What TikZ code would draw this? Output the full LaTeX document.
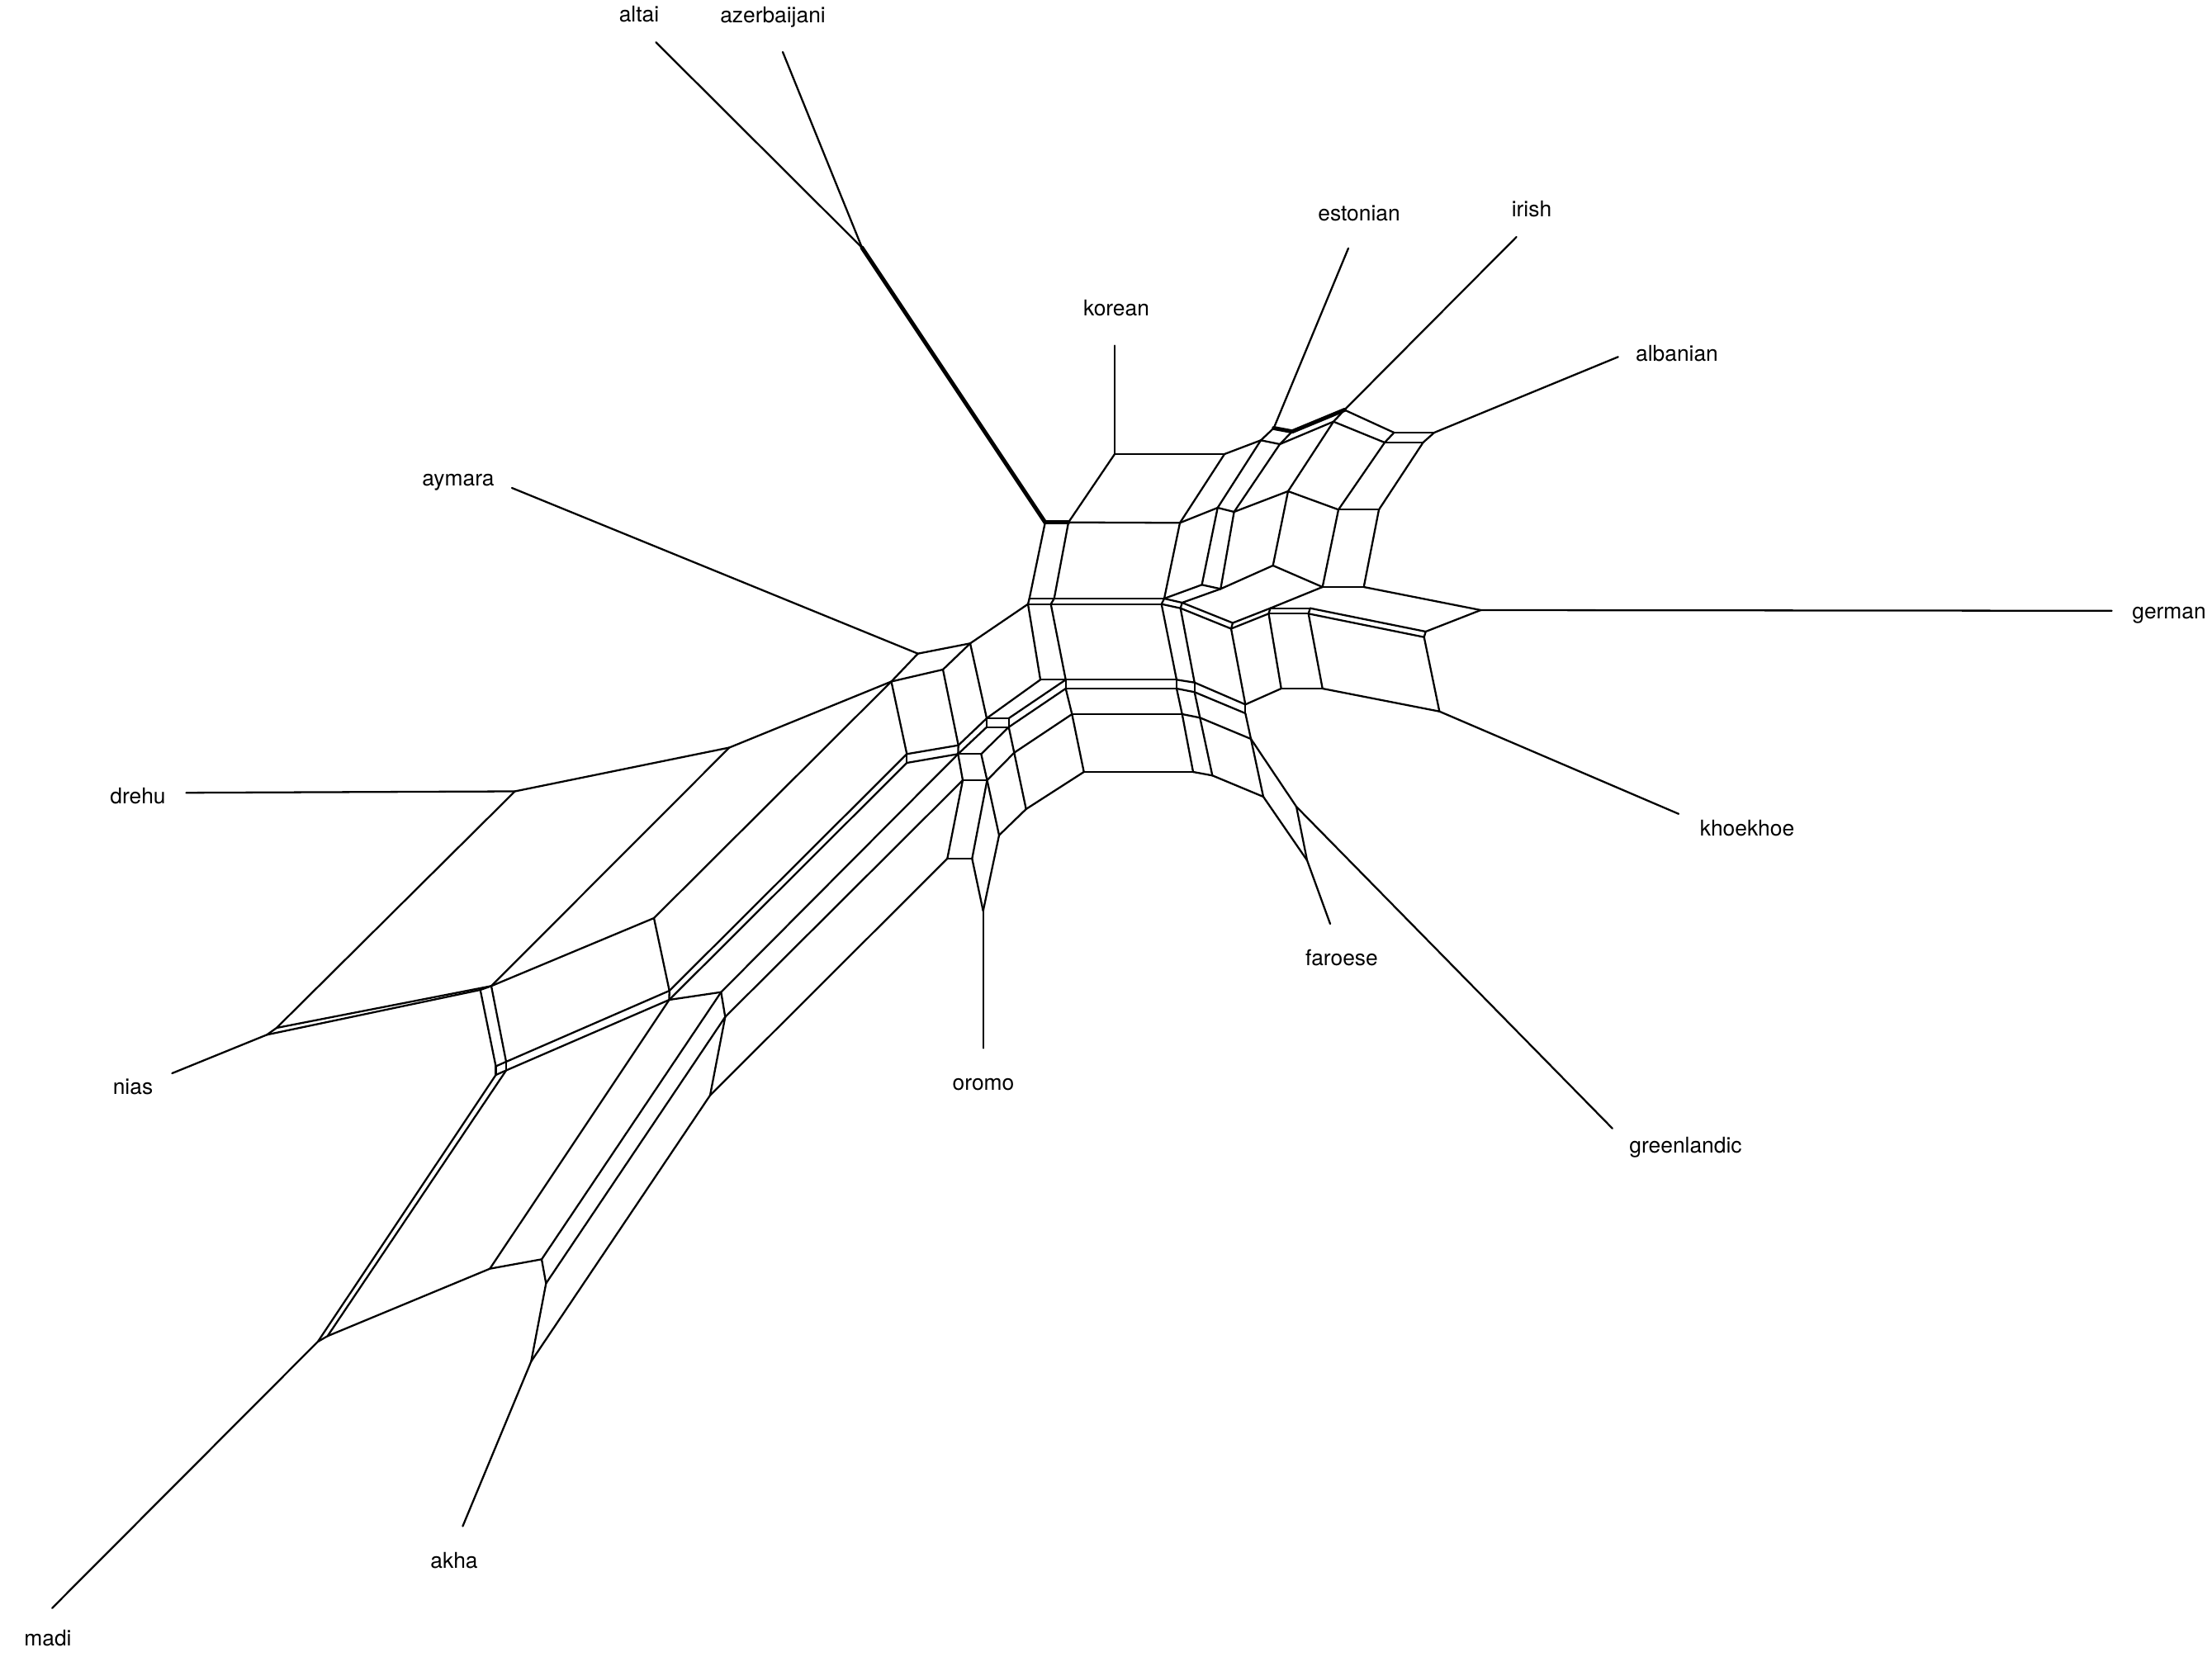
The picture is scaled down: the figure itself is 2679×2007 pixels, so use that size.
\documentclass[tikz,border=0pt]{standalone}
\usepackage{fontspec}
\setmainfont{TeX Gyre Heros}
\begin{document}
\begin{tikzpicture}[x=0.01cm,y=-0.01cm,
  edge/.style={line width=0.65pt,line cap=round,line join=round},
  dbl/.style={line width=1.4pt,line cap=round},
  lab/.style={font=\fontsize{7.5}{9}\selectfont,inner sep=0pt}]
\useasboundingbox (0,0) rectangle (2679,2007);
% pendant ends
\coordinate (altE) at (794.5,51.3);
\coordinate (azeE) at (948,63);
\coordinate (korE) at (1350,418.6);
\coordinate (estE) at (1633,300.7);
\coordinate (iriE) at (1836.6,287);
\coordinate (albE) at (1959.7,432.3);
\coordinate (gerE) at (2557.6,739.8);
\coordinate (khoE) at (2033,985.8);
\coordinate (greE) at (1952.8,1366.8);
\coordinate (farE) at (1611,1119);
\coordinate (oroE) at (1190.7,1269.5);
\coordinate (akhE) at (560.4,1848.6);
\coordinate (madE) at (63.2,1947.7);
\coordinate (niaE) at (208.4,1300);
\coordinate (dreE) at (225.5,960.2);
\coordinate (aymE) at (620,591);
% internal vertices
\coordinate (J0) at (1044,300);
\coordinate (A) at (1265.8,632.7);
\coordinate (K4) at (1294,632.7);
\coordinate (K1) at (1350,550);
\coordinate (K2) at (1483,550);
\coordinate (K3) at (1429,633.3);
\coordinate (T1) at (1527,533.3);
\coordinate (E0) at (1542.7,518.5);
\coordinate (E1) at (1565,522.7);
\coordinate (T2) at (1550,538);
\coordinate (I0) at (1628.3,496.5);
\coordinate (I1) at (1615,510.7);
\coordinate (L0) at (1688.3,524);
\coordinate (L1) at (1677,536);
\coordinate (L2) at (1737,524);
\coordinate (L3) at (1723.5,536);
\coordinate (P1) at (1474.7,615);
\coordinate (P2) at (1494.6,620);
\coordinate (N1) at (1560,595);
\coordinate (M1) at (1621,617.3);
\coordinate (M2) at (1670,617.3);
\coordinate (Q1) at (1541.7,685);
\coordinate (Q2) at (1601.7,711);
\coordinate (Q3) at (1651.7,711);
\coordinate (G0) at (1793.3,739);
\coordinate (R0) at (1455.6,708.3);
\coordinate (R1) at (1478.3,713.3);
\coordinate (V1) at (1246.7,725);
\coordinate (V2) at (1276.7,725);
\coordinate (V3) at (1410,725);
\coordinate (W1) at (1245,731.7);
\coordinate (W2) at (1272.7,731.7);
\coordinate (W3) at (1406.7,731.7);
\coordinate (b1) at (1431.7,730);
\coordinate (b2) at (1429.7,736.7);
\coordinate (c1) at (1493,754.5);
\coordinate (c2) at (1491,761.5);
\coordinate (d1) at (1538.5,736.7);
\coordinate (d2) at (1536.5,743.3);
\coordinate (e1) at (1586.7,736.7);
\coordinate (e2) at (1584.7,743.3);
\coordinate (f1) at (1726.7,765);
\coordinate (f2) at (1724.7,771.7);
\coordinate (Z1) at (1260,823.3);
\coordinate (Z2) at (1290.7,823.3);
\coordinate (Z2p) at (1290.7,834);
\coordinate (z5) at (1425,823.3);
\coordinate (z5p) at (1425,834);
\coordinate (z6) at (1446.7,826.7);
\coordinate (z6p) at (1446.7,838.3);
\coordinate (z7) at (1508.3,853.3);
\coordinate (z7p) at (1508.3,864);
\coordinate (z8) at (1551.7,834);
\coordinate (z9) at (1601.7,834);
\coordinate (kh0) at (1743.3,861.7);
\coordinate (U2) at (1298.3,865);
\coordinate (U5) at (1431.7,865);
\coordinate (U6) at (1453.3,869.3);
\coordinate (X) at (1515,895);
\coordinate (BB2) at (1312.7,935);
\coordinate (BB5) at (1445,935);
\coordinate (BB6) at (1468.3,939.3);
\coordinate (BB7) at (1530,965);
\coordinate (Gr0) at (1570,977);
\coordinate (F0) at (1583,1042);
\coordinate (Z3) at (1195,870);
\coordinate (Z4) at (1221.7,870);
\coordinate (Z3p) at (1195,880.7);
\coordinate (Z4p) at (1221.7,880.7);
\coordinate (U4) at (1228.3,911.7);
\coordinate (BB4) at (1242.7,980);
\coordinate (Y0) at (1111.7,791.7);
\coordinate (Y1) at (1175,779.3);
\coordinate (Y2) at (1079.5,825.5);
\coordinate (Y3) at (1142,811);
\coordinate (Y4) at (1098.3,913.3);
\coordinate (Y4p) at (1098.3,924);
\coordinate (Y5) at (1160.7,902.7);
\coordinate (Y5p) at (1160.3,913.3);
\coordinate (Y6) at (1188.3,913.3);
\coordinate (Y5u) at (1166,945);
\coordinate (Y6u) at (1195.5,945);
\coordinate (Y6b) at (1210,1011.7);
\coordinate (OrL) at (1177.3,1040);
\coordinate (OrLL) at (1147.3,1040);
\coordinate (Or0) at (1190.7,1103.3);
\coordinate (D0) at (623.6,958.5);
\coordinate (D1) at (883.3,905.5);
\coordinate (H1) at (792,1112);
\coordinate (H2) at (810.7,1200);
\coordinate (H2p) at (810.5,1211);
\coordinate (H3) at (873.3,1201.7);
\coordinate (H4) at (878.3,1231.7);
\coordinate (H5) at (860,1326.7);
\coordinate (N0a) at (323.3,1253.3);
\coordinate (N0b) at (335,1245);
\coordinate (NNa) at (581.7,1199);
\coordinate (NNb) at (595,1194.3);
\coordinate (O1) at (600.5,1291.5);
\coordinate (O1p) at (600.5,1302);
\coordinate (O2) at (613,1286);
\coordinate (O2p) at (613,1296.5);
\coordinate (Ma) at (385,1625);
\coordinate (Mb) at (396.7,1618.3);
\coordinate (Ak1) at (593.3,1536.7);
\coordinate (Ak2) at (656,1525.3);
\coordinate (Ak3) at (661.3,1554.5);
\coordinate (Ak4) at (643.3,1649);
% thick (doubled) edges
\foreach \a/\b in {J0/A, A/K4, E0/E1, E1/I0}
  \draw[dbl] (\a)--(\b);
% pendant edges
\foreach \a/\b in {altE/J0, azeE/J0, korE/K1, estE/E0, iriE/I0, albE/L2,
  gerE/G0, khoE/kh0, greE/Gr0, farE/F0, oroE/Or0, akhE/Ak4, madE/Ma,
  niaE/N0a, dreE/D0, aymE/Y0}
  \draw[edge] (\a)--(\b);
% core edges
\foreach \a/\b in {K1/K2, K1/K4, K2/K3, K4/K3, K2/T1, T1/E0, T1/T2, T2/E1,
  T2/I1, I0/I1, I0/L0, I1/L1, L0/L1, L0/L2, L1/L3, L2/L3,
  K3/P1, T1/P1, T2/P2, P1/P2, P2/N1, I1/N1, N1/M1, L1/M1, M1/M2, L3/M2,
  N1/Q1, M1/Q2, M2/Q3, Q1/Q2, Q2/Q3, Q3/G0,
  P1/R0, P2/R1, R0/R1, R1/Q1,
  A/V1, K4/V2, K3/V3, V1/V2, V2/V3, V3/R0,
  V1/W1, V2/W2, V3/W3, W1/W2, W2/W3,
  V3/b1, W3/b2, b1/b2, b1/R1, b1/c1, b2/c2, c1/c2, c1/d1, c2/d2, d1/d2,
  d1/Q2, d1/e1, d2/e2, e1/e2, e1/f1, e2/f2, f1/f2, f1/G0,
  W1/Z1, W2/Z2, W3/z5, b2/z6, c2/z7, d2/z8, e2/z9, f2/kh0,
  Z1/Z2, Z2/z5, z5/z6, z6/z7, z7/z8, z8/z9, z9/kh0,
  Z2/Z2p, z5/z5p, z6/z6p, z7/z7p, Z2p/z5p, z5p/z6p, z6p/z7p,
  Z2p/U2, z5p/U5, z6p/U6, z7p/X, U2/U5, U5/U6, U6/X,
  U2/BB2, U5/BB5, U6/BB6, X/BB7, BB2/BB5, BB5/BB6, BB6/BB7,
  X/Gr0, BB7/F0, Gr0/F0,
  Y1/W1, Y0/Y1, Y0/Y2, Y1/Y3, Y2/Y3,
  Z1/Z3, Z2/Z4, Z2p/Z4p, Z3/Z4, Z3/Z3p, Z4/Z4p, Z3p/Z4p, Y1/Z3,
  Y2/Y4, Y3/Y5, Y4/Y5, Y4/Y4p, Y5/Y5p, Y4p/Y5p, Z3/Y5, Z3p/Y5p, Z4p/Y6, Y5p/Y6,
  Z4p/U4, U2/U4, Y5p/Y5u, Y6/Y6u, Y5u/Y6u, Y6u/U4,
  U4/BB4, BB2/BB4, Y6u/Y6b, BB4/Y6b, Y6b/Or0, OrL/Y6u, OrL/Or0, OrLL/OrL, OrLL/Y5u,
  Y2/D1, D0/D1, Y2/H1, D1/NNb, H1/NNb, D0/N0b, N0a/N0b, N0a/NNa, N0b/NNb, NNa/NNb,
  H1/H2, Y4/H2, Y4p/H2p, H2/H2p, NNa/O1, NNb/O2, O1/O2, O1/O1p, O2/O2p, O1p/O2p,
  O2/H2, O2p/H2p,
  H2p/H3, Y5p/H3, H3/H4, Y5u/H4, H4/H5, OrLL/H5,
  O1p/Ma, O2p/Mb, Ma/Mb, Mb/Ak1, H2p/Ak1, Ak1/Ak2, H3/Ak2, Ak2/Ak3, H4/Ak3,
  Ak3/Ak4, H5/Ak4}
  \draw[edge] (\a)--(\b);
% labels
\node[lab] (l-altai) at (774,17) {altai};
\node[lab] (l-aze) at (936,21) {azerbaijani};
\node[lab] (l-kor) at (1352,373) {korean};
\node[lab] (l-est) at (1646,258) {estonian};
\node[lab] (l-iri) at (1855,253) {irish};
\node[lab] (l-alb) at (2031,428) {albanian};
\node[lab] (l-ger) at (2627,745) {german};
\node[lab] (l-kho) at (2116,1003) {khoekhoe};
\node[lab] (l-gre) at (2041.5,1390) {greenlandic};
\node[lab] (l-far) at (1625,1160) {faroese};
\node[lab] (l-oro) at (1191,1314) {oromo};
\node[lab] (l-akh) at (550,1890) {akha};
\node[lab] (l-mad) at (58,1984) {madi};
\node[lab] (l-nia) at (161,1316) {nias};
\node[lab] (l-dre) at (167,964) {drehu};
\node[lab] (l-aym) at (555,584) {aymara};
\end{tikzpicture}
\end{document}
